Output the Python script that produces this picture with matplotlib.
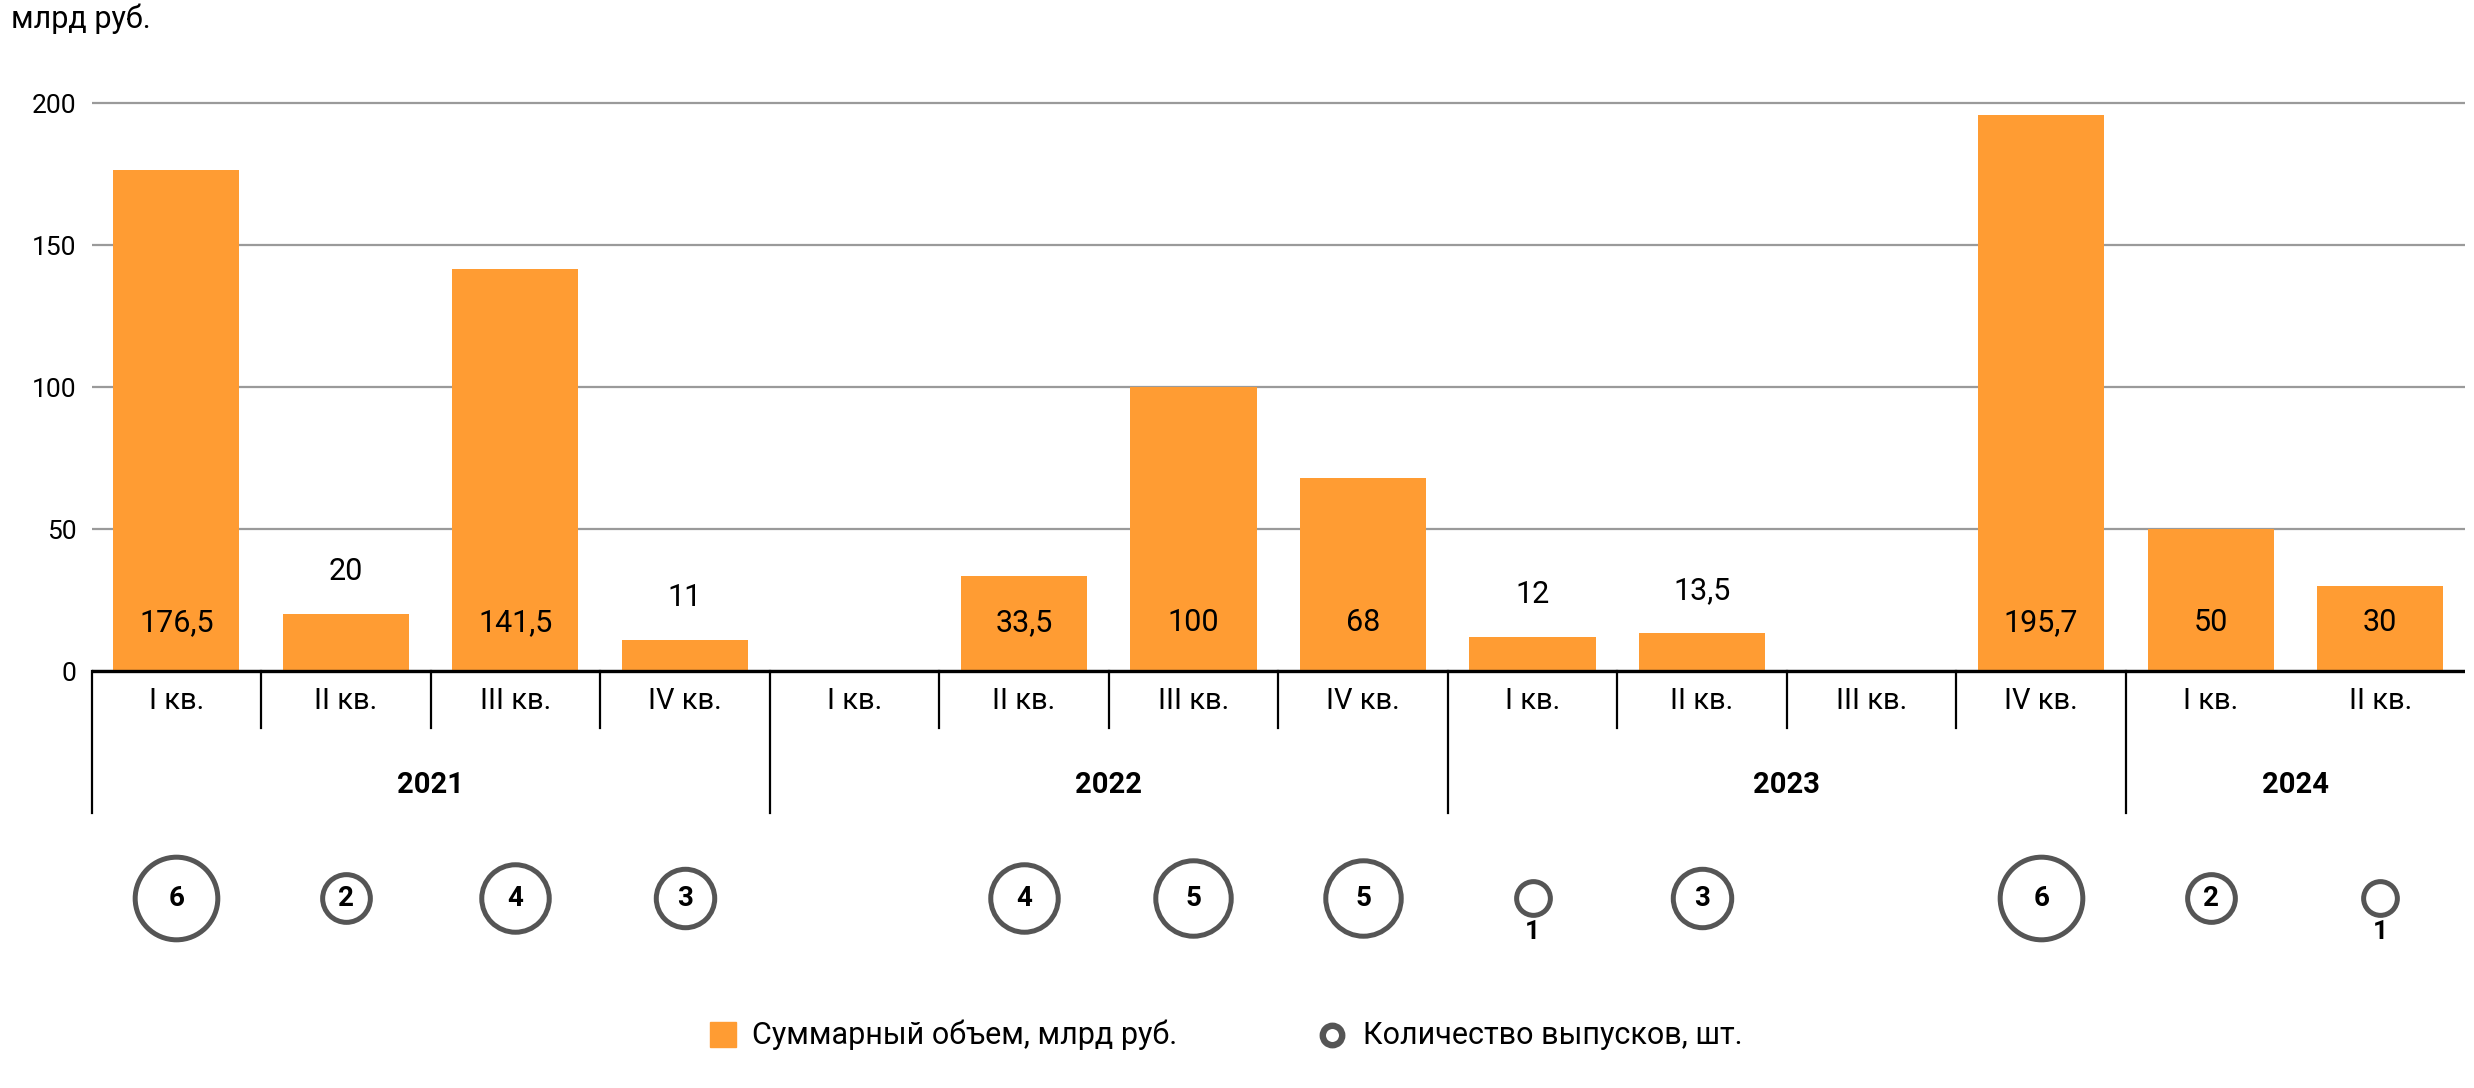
import matplotlib
matplotlib.use("Agg")
import matplotlib.pyplot as plt
from matplotlib.patches import Rectangle
from matplotlib.lines import Line2D

plt.rcParams['font.family'] = ['Roboto', 'DejaVu Sans']

# data
quarters = ['I кв.', 'II кв.', 'III кв.', 'IV кв.',
            'I кв.', 'II кв.', 'III кв.', 'IV кв.',
            'I кв.', 'II кв.', 'III кв.', 'IV кв.',
            'I кв.', 'II кв.']
years = ['2021', '2022', '2023', '2024']
year_len = [4, 4, 4, 2]
volumes = [176.5, 20, 141.5, 11,
           None, 33.5, 100, 68,
           12, 13.5, None, 195.7,
           50, 30]
vol_labels = ['176,5', '20', '141,5', '11',
              None, '33,5', '100', '68',
              '12', '13,5', None, '195,7',
              '50', '30']
counts = [6, 2, 4, 3,
          None, 4, 5, 5,
          1, 3, None, 6,
          2, 1]

orange = '#FF9C33'
ring = '#555555'

W, H = 2474, 1088
fig = plt.figure(figsize=(W / 100, H / 100), dpi=100)
ax = fig.add_axes([91.5 / W, 0, (2465 - 91.5) / W, 1])
ax.set_xlim(-0.5, 13.5)
ax.set_ylim(-146.8, 236.3)
for s in ax.spines.values():
    s.set_visible(False)

ax.set_xticks([])
ax.set_yticks([0, 50, 100, 150, 200])
ax.tick_params(axis='y', length=0, pad=11, labelsize=19)
ax.yaxis.grid(True, color='#9a9a9a', lw=1.6)
ax.set_axisbelow(True)
ax.axhline(0, color='black', lw=2.4, zorder=3)

# bars + value labels
for i, (v, lab) in enumerate(zip(volumes, vol_labels)):
    if v is None:
        continue
    ax.bar(i, v, width=0.745, color=orange, zorder=2)
    if v >= 25:
        ax.text(i, 17, lab, ha='center', va='center', fontsize=22, zorder=4)
    else:
        ax.text(i, v + 15, lab, ha='center', va='center', fontsize=22, zorder=4)

# quarter labels and dividers
for i, q in enumerate(quarters):
    ax.text(i, -10.5, q, ha='center', va='center', fontsize=21)

year_edges = [-0.5]
for n in year_len:
    year_edges.append(year_edges[-1] + n)

for x in [0.5, 1.5, 2.5, 4.5, 5.5, 6.5, 8.5, 9.5, 10.5]:
    ax.plot([x, x], [0, -20], color='black', lw=1.6, clip_on=False)
for x in year_edges[:-1]:
    ax.plot([x, x], [0, -50], color='black', lw=1.6, clip_on=False)

for k, y in enumerate(years):
    ax.text((year_edges[k] + year_edges[k + 1]) / 2, -40, y, ha='center',
            va='center', fontsize=21, fontweight='bold')

# bubbles
for i, c in enumerate(counts):
    if c is None:
        continue
    ax.scatter(i, -80, s=590 * c, facecolor='white', edgecolor=ring,
               linewidth=3.6, zorder=3, clip_on=False)
    if c > 1:
        ax.text(i, -80, str(c), ha='center', va='center', fontsize=20,
                fontweight='bold', zorder=4)
    else:
        ax.text(i, -92, str(c), ha='center', va='center', fontsize=19,
                fontweight='bold', zorder=4)

# unit label
fig.text(11 / W, 1 - 28 / H, 'млрд руб.', fontsize=22, va='baseline')

# legend
ly = 1 - 1035 / H
fig.add_artist(Rectangle((710 / W, ly - 12 / H), 26 / W, 25 / H,
                         transform=fig.transFigure, color=orange))
fig.text(752 / W, ly, 'Суммарный объем, млрд руб.', fontsize=22, va='center')
fig.add_artist(Line2D([1332 / W], [ly], marker='o', markersize=14,
                      markerfacecolor='white', markeredgecolor=ring,
                      markeredgewidth=4.6, transform=fig.transFigure))
fig.text(1363 / W, ly, 'Количество выпусков, шт.', fontsize=22, va='center')

fig.savefig('out.png', dpi=100)
